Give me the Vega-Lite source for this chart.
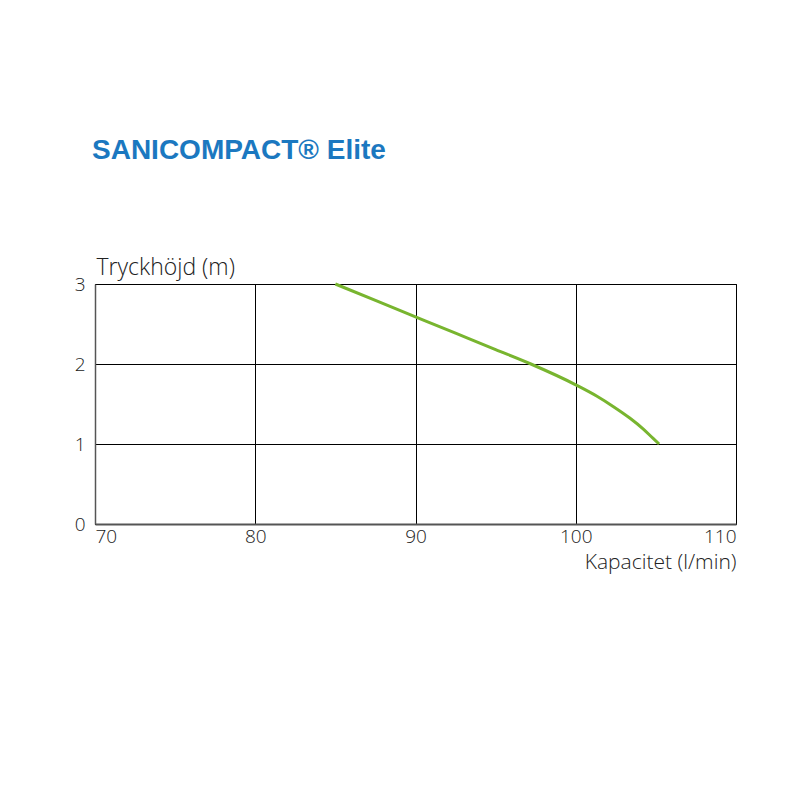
{
  "$schema": "https://vega.github.io/schema/vega-lite/v6.json",
  "width": 641,
  "height": 240,
  "autosize": {"type": "none"},
  "padding": {"left": 95, "top": 284, "right": 64, "bottom": 276},
  "background": "white",
  "title": {
    "text": "SANICOMPACT® Elite",
    "anchor": "start",
    "frame": "group",
    "font": "Liberation Sans",
    "fontSize": 28,
    "fontWeight": "bold",
    "color": "#1b78c0",
    "offset": 91,
    "dx": -3
  },
  "config": {
    "view": {"stroke": "black", "strokeWidth": 1},
    "font": "Open Sans",
    "axis": {
      "labelFont": "Open Sans",
      "titleFont": "Open Sans",
      "labelFontWeight": 300,
      "titleFontWeight": 300,
      "labelColor": "#222",
      "titleColor": "#222",
      "labelFontSize": 19,
      "titleFontSize": 19,
      "ticks": false,
      "grid": true,
      "gridColor": "black",
      "gridWidth": 1,
      "gridOpacity": 1
    }
  },
  "data": {
    "values": [
      {"q": 85.0, "h": 3.0},
      {"q": 87.5, "h": 2.795},
      {"q": 90, "h": 2.59},
      {"q": 92.5, "h": 2.385},
      {"q": 95, "h": 2.18},
      {"q": 97.2, "h": 2.0},
      {"q": 100, "h": 1.74},
      {"q": 101.3, "h": 1.6},
      {"q": 102.33, "h": 1.47},
      {"q": 103.37, "h": 1.325},
      {"q": 104.2, "h": 1.19},
      {"q": 104.83, "h": 1.07},
      {"q": 105.2, "h": 1.0}
    ]
  },
  "mark": {"type": "line", "color": "#78b52f", "strokeWidth": 3, "interpolate": "monotone"},
  "encoding": {
    "x": {
      "field": "q",
      "type": "quantitative",
      "scale": {"domain": [70, 110], "nice": false, "zero": false},
      "axis": {
        "values": [70, 80, 90, 100, 110],
        "title": "Kapacitet (l/min)",
        "titleAnchor": "end",
        "titleAlign": "right",
        "titleFontSize": 21,
        "titlePadding": 5,
        "labelPadding": 3,
        "labelFlush": true,
        "domainColor": "#555",
        "domainWidth": 2
      }
    },
    "y": {
      "field": "h",
      "type": "quantitative",
      "scale": {"domain": [0, 3], "nice": false},
      "axis": {
        "values": [0, 1, 2, 3],
        "title": "Tryckhöjd (m)",
        "titleAngle": 0,
        "titleAlign": "left",
        "titleBaseline": "alphabetic",
        "titleX": 1,
        "titleY": -10,
        "titleFontSize": 23,
        "labelPadding": 10,
        "domainColor": "#555",
        "domainWidth": 1.5
      }
    }
  }
}
